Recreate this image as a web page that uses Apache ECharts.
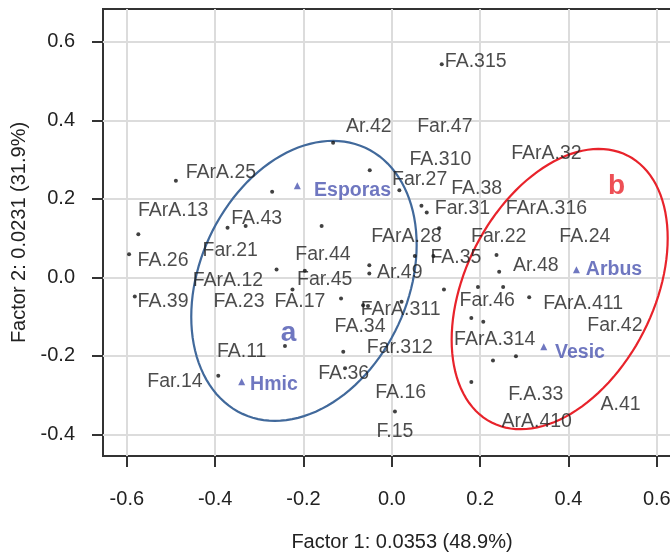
<!DOCTYPE html>
<html><head><meta charset="utf-8">
<script src="https://cdn.jsdelivr.net/npm/echarts@6/dist/echarts.min.js"></script>
<style>html,body{margin:0;padding:0;background:#fff}#c{width:670px;height:554px}</style>
</head><body><div id="c"></div>
<script>
// tick values
const xTicks = [-0.6, -0.4, -0.2, 0.0, 0.2, 0.4, 0.6];
const yTicks = [-0.4, -0.2, 0.0, 0.2, 0.4, 0.6];
// sample points (Factor 1, Factor 2)
const dots = [
  [0.113,0.543],[-0.489,0.246],[-0.271,0.218],[-0.574,0.110],[-0.372,0.126],[-0.331,0.131],
  [-0.595,0.059],[-0.261,0.020],[-0.225,-0.031],[-0.582,-0.049],[-0.242,-0.175],[-0.393,-0.251],
  [-0.133,0.343],[-0.050,0.273],[0.017,0.222],[0.067,0.182],[0.079,0.165],[-0.159,0.131],
  [0.107,0.125],[0.052,0.054],[0.094,0.054],[-0.051,0.031],[-0.051,0.010],[-0.197,0.017],
  [-0.115,-0.054],[0.118,-0.031],[-0.065,-0.071],[-0.054,-0.073],[0.022,-0.062],[0.180,-0.104],
  [-0.110,-0.190],[-0.106,-0.232],[0.180,-0.267],[0.007,-0.342],[0.237,0.057],[0.243,0.014],
  [0.195,-0.025],[0.252,-0.025],[0.311,-0.051],[0.207,-0.113],[0.229,-0.212],[0.281,-0.201]
];
// sample label names and their label anchors
const labelNames = ["FA.315","Ar.42","Far.47","FA.310","FArA.32","FArA.25","Far.27","FA.38","FArA.13",
  "Far.31","FArA.316","FA.43","FArA.28","Far.22","FA.24","Far.21","Far.44","FA.26","FA.35","Ar.48",
  "Ar.49","FArA.12","Far.45","FA.39","FA.23","FA.17","Far.46","FArA.411","FArA.311","FA.34","Far.42",
  "FArA.314","Far.312","FA.11","FA.36","Far.14","FA.16","F.A.33","A.41","ArA.410","F.15"];
const labelPos = [[0.190,0.549],[-0.052,0.385],[0.120,0.385],[0.110,0.299],[0.350,0.316],[-0.387,0.266],
  [0.063,0.248],[0.192,0.225],[-0.495,0.171],[0.160,0.174],[0.350,0.174],[-0.306,0.150],[0.033,0.103],
  [0.242,0.103],[0.437,0.103],[-0.366,0.068],[-0.156,0.057],[-0.518,0.042],[0.145,0.049],[0.326,0.031],
  [0.018,0.012],[-0.371,-0.009],[-0.152,-0.007],[-0.518,-0.062],[-0.346,-0.062],[-0.208,-0.063],
  [0.216,-0.060],[0.433,-0.066],[0.020,-0.083],[-0.072,-0.126],[0.505,-0.124],[0.233,-0.160],
  [0.018,-0.180],[-0.340,-0.190],[-0.109,-0.245],[-0.491,-0.266],[0.020,-0.294],[0.326,-0.300],
  [0.518,-0.325],[0.328,-0.368],[0.007,-0.393]];
// supplementary variables
const factorNames = ["Esporas","Hmic","Arbus","Vesic"];
const factorPts = [[-0.214,0.233],[-0.340,-0.266],[0.418,0.019],[0.344,-0.177]];
const factorLabelPos = [[-0.089,0.222],[-0.267,-0.274],[0.503,0.019],[0.426,-0.192]];
// groups: centre, two conjugate semi-axes (data units)
const groupNames = ["a","b"];
const groupLabelPos = [[-0.234,-0.142],[0.509,0.233]];
const ellipses = [
  [-0.199,-0.009, 0.139,0.339, 0.214,-0.111],
  [0.380,-0.030, 0.154,0.340, 0.190,-0.109]
];
const groupColors = ['#41699b','#e8232b'];

const FONT = '"Liberation Sans", Arial, sans-serif';
const chart = echarts.init(document.getElementById('c'), null, {renderer:'canvas'});

const axisCommon = {
  type:'value',
  axisLine:{show:false, onZero:false},
  axisTick:{show:true, inside:false, length:11, lineStyle:{color:'#333', width:2}},
  splitLine:{show:true, lineStyle:{color:'#dcdcdc', width:2}},
  nameLocation:'middle',
  nameTextStyle:{fontSize:20, color:'#222', fontFamily:FONT}
};

chart.setOption({
  animation:false,
  grid:{left:103, top:9, right:-31, bottom:98, show:true, borderColor:'#333', borderWidth:2,
        containLabel:false, outerBoundsMode:'none'},
  xAxis:Object.assign({}, axisCommon, {
    min:-0.654, max:0.700,
    name:'Factor 1: 0.0353 (48.9%)', nameGap:76,
    axisTick:Object.assign({}, axisCommon.axisTick, {customValues:xTicks}),
    axisLabel:{customValues:xTicks, margin:33, fontSize:20, color:'#222', fontFamily:FONT,
      formatter:v=>Number(v).toFixed(1)}
  }),
  yAxis:Object.assign({}, axisCommon, {
    min:-0.4553, max:0.6836,
    name:'Factor 2: 0.0231 (31.9%)', nameGap:64,
    axisTick:Object.assign({}, axisCommon.axisTick, {customValues:yTicks}),
    axisLabel:{customValues:yTicks, margin:28, fontSize:20, color:'#222', fontFamily:FONT,
      formatter:v=>Number(v).toFixed(1)}
  }),
  series:[
    {
      type:'custom', coordinateSystem:'cartesian2d', silent:true, z:3,
      data:ellipses.map((e,i)=>e.concat([i])),
      encode:{x:0,y:1},
      renderItem:function(params, api){
        const cx=api.value(0), cy=api.value(1), ux=api.value(2), uy=api.value(3), vx=api.value(4), vy=api.value(5);
        const idx=api.value(6);
        const pts=[];
        const n=120;
        for(let k=0;k<=n;k++){
          const t=2*Math.PI*k/n;
          pts.push(api.coord([cx+ux*Math.cos(t)+vx*Math.sin(t), cy+uy*Math.cos(t)+vy*Math.sin(t)]));
        }
        return {type:'polyline', shape:{points:pts}, style:{stroke:groupColors[idx], lineWidth:2.2, fill:null}};
      }
    },
    {
      type:'scatter', z:4, symbol:'circle', symbolSize:4, itemStyle:{color:'#111'},
      data:dots
    },
    {
      type:'scatter', z:4, symbol:'triangle', symbolSize:7, itemStyle:{color:'#4b55b0'},
      data:factorPts
    },
    {
      type:'scatter', z:5, symbolSize:0,
      data:labelNames.map((n,i)=>({name:n, value:labelPos[i]})),
      label:{show:true, position:'inside', formatter:p=>p.name, fontSize:19.5, color:'#1e1e1e', fontFamily:FONT}
    },
    {
      type:'scatter', z:5, symbolSize:0,
      data:factorNames.map((n,i)=>({name:n, value:factorLabelPos[i]})),
      label:{show:true, position:'inside', formatter:p=>p.name, fontSize:19.5, fontWeight:'bold', color:'#4b55b0', fontFamily:FONT}
    },
    {
      type:'scatter', z:5, symbolSize:0,
      data:groupNames.map((n,i)=>({name:n, value:groupLabelPos[i], label:{color:i===0?'#4b55b0':'#e8232b'}})),
      label:{show:true, position:'inside', formatter:p=>p.name, fontSize:28, fontWeight:'bold', fontFamily:FONT}
    }
  ]
});
</script></body></html>
